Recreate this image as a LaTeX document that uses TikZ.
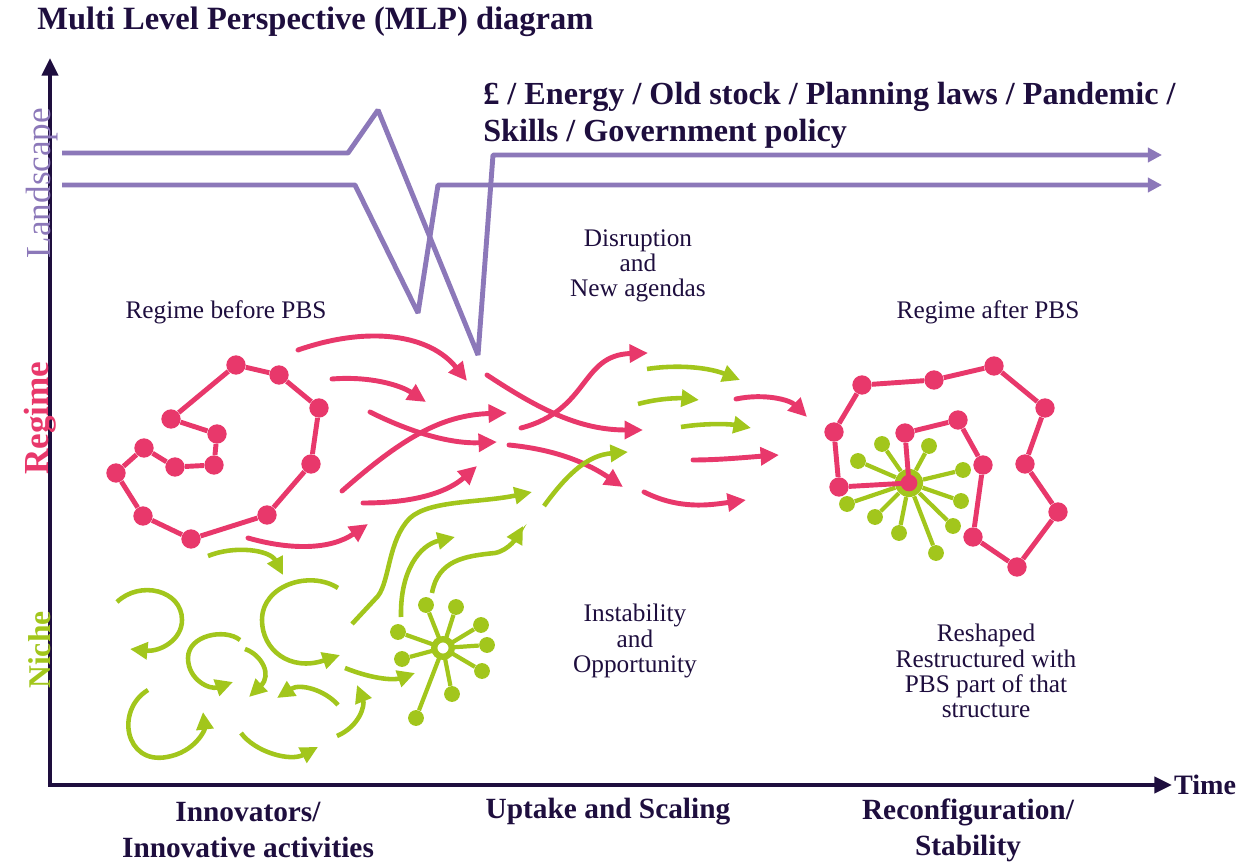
\documentclass[tikz,border=0pt]{standalone}
\usepackage{fontspec}
\setmainfont{Liberation Serif}
\usetikzlibrary{arrows.meta}
\definecolor{pk}{RGB}{232,56,107}
\definecolor{gr}{RGB}{162,198,28}
\definecolor{pu}{RGB}{140,120,185}
\definecolor{nv}{RGB}{30,14,62}
\begin{document}
\begin{tikzpicture}[x=0.02cm,y=-0.02cm,
  pa/.style={draw=pk, line width=2.8pt, line cap=round, -{Triangle[length=10.5pt,width=10pt]}},
  ga/.style={draw=gr, line width=2.6pt, -{Triangle[length=10pt,width=9.5pt]}},
  pline/.style={draw=pk, line width=2.8pt},
  gline/.style={draw=gr, line width=2.4pt},
  pdot/.style={circle, fill=pk, inner sep=0pt, minimum size=11pt},
  gdot/.style={circle, fill=gr, inner sep=0pt, minimum size=9pt},
  land/.style={draw=pu, line width=2.8pt, line join=bevel, -{Triangle[length=8pt,width=8pt]}},
  axis/.style={draw=nv, line width=2.5pt, -{Triangle[length=10pt,width=9pt]}},
  txt/.style={text=nv, font=\fontsize{14.4}{14.4}\selectfont, align=center, inner sep=0pt},
  btxt/.style={text=nv, font=\fontsize{16.7}{20.4}\selectfont\bfseries, align=center, inner sep=0pt},
  side/.style={rotate=90, inner sep=0pt, font=\fontsize{20}{20}\selectfont}
]
\useasboundingbox (0,0) rectangle (1241,864);

% title
\node[text=nv, font=\fontsize{18.5}{20}\selectfont\bfseries, anchor=west, inner sep=0pt] (title) at (37,22) {Multi Level Perspective (MLP) diagram};

% axes
\coordinate (O) at (50,785);
\coordinate (Ytop) at (50,58);
\coordinate (Xend) at (1172,785);
\draw[axis] (O) -- (Ytop);
\draw[axis] ([xshift=-1.2pt]O) -- (Xend);
\node[text=nv, font=\fontsize{16}{16}\selectfont\bfseries, anchor=west, inner sep=1pt] (time) at (Xend) {Time};

% side labels
\node[side, text=pu] (lland) at (42,183) {Landscape};
\node[side, text=pk, font=\fontsize{20}{20}\selectfont\bfseries] (lreg) at (40,418) {Regime};
\node[side, text=gr, font=\fontsize{18}{18}\selectfont\bfseries] (lniche) at (40,650) {Niche};

% landscape lines
\coordinate (u0) at (62,153); \coordinate (u1) at (348,153); \coordinate (u2) at (378,110);
\coordinate (u3) at (478,355); \coordinate (u4) at (493,155); \coordinate (u5) at (1162,155);
\coordinate (l0) at (62,185); \coordinate (l1) at (355,185); \coordinate (l2) at (418,313);
\coordinate (l3) at (438,185); \coordinate (l4) at (1162,185);
\draw[land] (u0) -- (u1) -- (u2) -- (u3) -- (u4) -- (u5);
\draw[land] (l0) -- (l1) -- (l2) -- (l3) -- (l4);

\node[text=nv, font=\fontsize{18.3}{20}\selectfont\bfseries, anchor=west, align=left, inner sep=0pt] (ltext) at (483,115)
  {£ / Energy / Old stock / Planning laws / Pandemic /\\[1pt] Skills / Government policy};

% texts
\node[txt] (disr) at (638,266) {Disruption\\and\\New agendas};
\node[txt] (rbef) at (226,312) {Regime before PBS};
\node[txt] (raft) at (988,312) {Regime after PBS};
\node[txt] (inst) at (635,641) {Instability\\and\\Opportunity};
\node[txt] (resh) at (986,671) {Reshaped\\Restructured with\\PBS part of that\\structure};
\node[btxt] (b1) at (248,830) {Innovators/\\Innovative activities};
\node[btxt] (b2) at (608,812) {Uptake and Scaling};
\node[btxt] (b3) at (968,830) {Reconfiguration/\\Stability};

% regime before PBS
\foreach \n/\x/\y in {a1/236/365,a2/279/375,a3/319/408,a4/311/464,a5/267/515,a6/191/539,a7/143/516,a8/116/473,a9/144/448,a10/175/467,a11/214/465,a12/217/434,a13/171/419}
  \node[pdot] (\n) at (\x,\y) {};
\draw[pline] (a1) -- (a2) -- (a3) -- (a4) -- (a5) -- (a6) -- (a7) -- (a8) -- (a9) -- (a10) -- (a11) -- (a12) -- (a13) -- (a1);

% regime after PBS
\node[circle, fill=gr, inner sep=0pt, minimum size=16pt] (bc) at (909,483) {};
\foreach \n/\x/\y in {s1/882/444,s2/929/446,s3/858/461,s4/963/470,s5/847/504,s6/961/501,s7/875/517,s8/953/526,s9/899/533,s10/936/553}
  { \node[gdot] (\n) at (\x,\y) {}; \draw[gline] (bc) -- (\n); }
\foreach \n/\x/\y in {b1/862/385,b2/934/380,b3/994/366,b4/1045/408,b5/1025/464,b6/1058/512,b7/1017/567,b8/973/537,b9/983/465,b10/958/420,b11/905/433,b12/839/487,b13/834/432}
  \node[pdot] (\n) at (\x,\y) {};
\draw[pline] (b13) -- (b1) -- (b2) -- (b3) -- (b4) -- (b5) -- (b6) -- (b7) -- (b8) -- (b9) -- (b10) -- (b11) -- (bc.center) -- (b12) -- (b13);
\node[pdot, minimum size=9.5pt] (bcp) at (bc) {};

% niche star
\foreach \n/\x/\y in {t1/426/605,t2/456/607,t3/481/625,t4/487/645,t5/482/671,t6/452/694,t7/416/718,t8/402/659,t9/398/632}
  { \node[gdot] (\n) at (\x,\y) {}; \draw[gline] (443,648) -- (\n); }
\node[circle, draw=gr, line width=3.6pt, fill=white, inner sep=0pt, minimum size=10pt] (nc) at (443,648) {};

% pink arrows
\draw[pa] (298,350) .. controls (370,325) and (430,335) .. (467,381);
\draw[pa] (332,379) .. controls (370,376) and (400,385) .. (426,402);
\draw[pa] (370,412) .. controls (410,432) and (450,444) .. (497,442);
\draw[pa] (342,491) .. controls (400,440) and (440,415) .. (507,413);
\draw[pa] (363,503) .. controls (420,503) and (450,490) .. (477,466);
\draw[pa] (248,538) .. controls (290,550) and (330,550) .. (368,524);
\draw[pa] (487,375) .. controls (540,410) and (580,430) .. (643,430);
\draw[pa] (521,428) .. controls (590,410) and (580,355) .. (648,353);
\draw[pa] (509,445) .. controls (560,450) and (590,465) .. (623,487);
\draw[pa] (644,492) .. controls (680,510) and (710,505) .. (746,500);
\draw[pa] (693,460) .. controls (720,460) and (750,457) .. (779,455);
\draw[pa] (736,399) .. controls (765,393) and (790,400) .. (807,417);

% green arrows (middle)
\draw[ga] (647,369) .. controls (680,364) and (710,368) .. (740,380);
\draw[ga] (638,404) .. controls (660,398) and (680,398) .. (699,400);
\draw[ga] (681,427) .. controls (705,423) and (730,424) .. (751,428);
\draw[ga] (544,506) .. controls (570,470) and (590,455) .. (628,452);
\draw[ga] (352,624) -- (378,596) .. controls (390,580) and (388,540) .. (410,518) .. controls (430,500) and (480,503) .. (532,492);
\draw[ga] (401,617) .. controls (400,570) and (420,545) .. (455,537);
\draw[ga] (432,593) .. controls (438,560) and (465,556) .. (495,553) .. controls (510,550) and (518,535) .. (523,526);
\draw[ga] (345,668) .. controls (375,680) and (395,680) .. (415,673);
\draw[ga] (337,736) .. controls (360,726) and (365,705) .. (357,685);

% niche arcs
\draw[ga] (208,556) .. controls (235,545) and (270,550) .. (283,575);
\draw[ga] (117,602) .. controls (140,580) and (182,590) .. (182,620) .. controls (182,640) and (160,652) .. (130,649);
\draw[ga] (338,588) .. controls (310,570) and (262,585) .. (262,620) .. controls (262,650) and (290,672) .. (340,655);
\draw[ga] (240,640) .. controls (225,628) and (188,635) .. (188,658) .. controls (188,680) and (210,690) .. (233,682);
\draw[ga] (245,649) .. controls (262,655) and (272,675) .. (249,697);
\draw[ga] (338,705) .. controls (325,690) and (300,683) .. (277,698);
\draw[ga] (148,690) .. controls (115,710) and (125,765) .. (167,757) .. controls (195,752) and (205,730) .. (203,712);
\draw[ga] (241,733) .. controls (255,752) and (290,762) .. (318,747);
\end{tikzpicture}
\end{document}
